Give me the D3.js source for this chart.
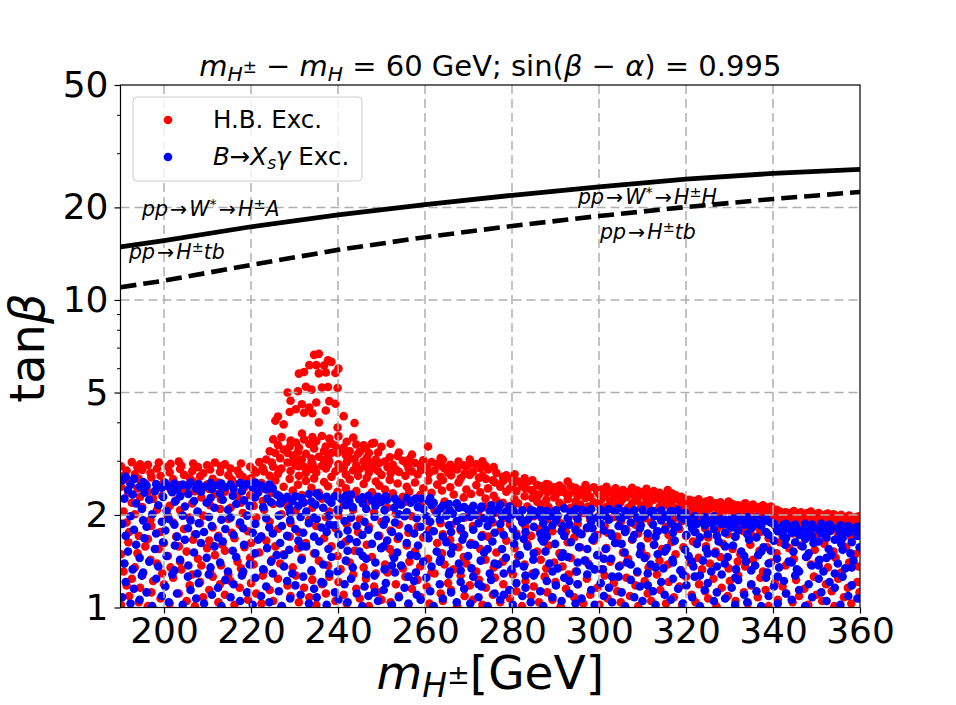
<!DOCTYPE html>
<html>
<head>
<meta charset="utf-8">
<script src="https://cdn.jsdelivr.net/npm/d3@7"></script>
<style>
  body { margin: 0; background: #fff; }
  text { font-family: "DejaVu Sans", sans-serif; }
</style>
</head>
<body>
<div id="chart"></div>
<script>
// axis ticks
const xTicks = [200, 220, 240, 260, 280, 300, 320, 340, 360];
const yTicks = [1, 2, 5, 10, 20, 50];
const yMinor = [3, 4, 6, 7, 8, 9, 30, 40];

// limit curves: m_H± (GeV) and tanβ
const massLine = [190, 200, 220, 240, 260, 280, 300, 320, 340, 360];
const wStarTan = [14.87, 15.6, 17.3, 18.9, 20.4, 21.9, 23.3, 24.7, 25.8, 26.6];
const tbTan    = [11.0, 11.55, 13.0, 14.55, 16.0, 17.4, 18.75, 20.05, 21.3, 22.45];

// scan points excluded by HiggsBounds: [m_H±, tanβ×100, ...]
const hbExcluded = [
 [190.1,102,149,247,288],[190.7,131,205,268],[191.4,118,189,279],[191.8,163,236],
 [192.0,109,176,258],[192.6,124,219,297],[193.3,135,201,271],[193.9,150,244,285],
 [194.2,104,171,262],[194.5,116,229,292],[195.0,127,212,280],[195.7,158,253],
 [196.3,101,167,238,291],[196.9,143,193,274],[197.1,112,184,265],[197.5,122,226],
 [198.4,139,208,283],[198.8,155,249,296],[199.2,107,176,268],[199.6,129,231],
 [200.0,119,162,256],[200.9,147,198,287],[201.3,103,214,275],[201.5,135,242,293],
 [202.1,125,189,261],[202.8,170,223],[203.4,111,158,250,298],[203.7,141,207,282],
 [204.0,133,236,289],[204.6,180,270],[205.2,105,152,245],[205.9,118,196,264],
 [206.5,128,218,278],[206.7,166,257,294],[207.1,101,173,239],[207.8,144,204,286],
 [208.3,121,188,267],[208.6,137,228],[209.0,108,199,273],[209.9,156,251,290],
 [210.4,114,165,243],[210.6,130,215,281],[211.2,126,182,262],[211.7,148,234,296],
 [212.5,104,171,255],[212.9,119,209,276],[213.1,137,225,288],[213.4,160,248],
 [214.0,110,153,238,292],[214.8,128,194,269],[215.3,122,211,283],[215.6,175,260],
 [216.2,102,168,252],[216.9,141,230,279],[217.4,116,186,271],[217.7,134,219,294],
 [218.1,129,203,266],[218.5,157,246],[219.3,106,177,258],[219.8,145,232,287],
 [220.0,120,162,263],[220.6,138,214,280],[221.2,111,196,275],[221.9,151,240,297],
 [222.4,103,170,254],[222.7,127,222,284],[223.0,132,208,277],[223.5,165,245,303],
 [224.3,114,190,268,322],[224.8,143,236,296],[225.1,105,217,287,352],[225.6,158,259,318,405],
 [226.2,124,180,272,338,418],[226.7,139,229,306,281],[227.0,101,201,283,358],[227.5,149,247,326,394],
 [228.4,118,214,296,318,500],[228.9,170,262,334,432],[229.1,109,188,278,349,470],[229.6,135,240,312,297],
 [230.3,127,207,290,344,441],[230.8,156,251,321,301,505],[231.0,104,176,268,331,288,576],[231.7,145,232,303,368,458],
 [232.2,116,220,287,352,430,583],[232.6,162,258,316,274,522],[233.4,108,193,281,340,447,614],[233.9,131,245,305,296,511],
 [234.1,123,211,294,358,428],[234.5,150,263,329,284,663],[235.0,102,184,275,347,464,614],[235.6,142,236,309,400,577,668],
 [236.3,119,226,289,361,519],[236.8,168,256,323,301,612],[237.2,111,197,283,334,437,581],[237.7,137,248,311,292,521,637],
 [238.0,126,205,299,354,469],[238.5,158,266,341,318,629],[239.4,105,181,277,336,460,579],[239.9,147,238,318,385,517],
 [240.1,121,199,292,360,598],[240.6,133,254,325,283],[241.3,110,216,285,331,419],[241.8,164,244,313,271],
 [242.0,103,187,297,346],[242.7,140,261,322,305],[243.5,128,208,279,357],[243.8,153,233,304,398],
 [244.2,115,239,290,339],[244.6,176,268,316],[245.0,107,194,282,321],[245.9,135,252,299,337],
 [246.4,124,218,287,329],[246.6,160,264,307],[247.1,101,183,275,318],[247.8,146,237,296,341],
 [248.3,117,204,284,343],[248.7,129,257,303],[249.2,112,225,278,319],[249.5,171,249,295],
 [250.0,106,190,270,333],[250.8,138,242,298],[251.4,130,211,286],[251.9,155,260,308],
 [252.1,104,178,273,341],[252.6,148,235,291],[253.3,119,202,281],[253.7,167,253,311],
 [254.0,109,186,276,319],[254.9,134,229,300],[255.5,126,221,268],[255.8,159,247,293],
 [256.2,102,175,284],[256.4,141,238,304],[257.0,115,198,277,314],[257.7,152,255,295],
 [258.3,123,183,271],[258.9,136,232,290],[259.1,108,214,280],[259.6,169,244,301],
 [260.4,117,192,286],[260.7,144,259,334],[261.0,103,179,274],[261.5,130,236,297],
 [262.2,129,207,279],[262.8,162,251,293],[263.6,111,188,266,306],[263.9,150,240,288],
 [264.1,105,173,260,302],[264.5,138,221,283],[265.3,120,203,275],[265.8,166,246,291],
 [266.0,114,185,269],[266.6,133,233,285],[267.4,101,216,281],[267.7,157,255,298],
 [268.2,127,178,263],[268.9,146,228,290],[269.1,109,196,272],[269.5,139,242,287],
 [270.3,118,209,270,303],[270.6,162,234,294],[271.0,106,184,276],[271.8,131,250,292],
 [272.4,123,199,264],[272.7,155,237,284],[273.2,102,172,268,299],[273.9,143,226,289],
 [274.0,116,212,262],[274.5,170,244,281],[275.6,110,189,259],[275.8,135,231,286],
 [276.1,125,203,255],[276.4,151,223,274],[277.3,104,178,247],[277.9,141,219,266],
 [278.0,119,195,258],[278.7,165,238,269],[279.5,107,186,243],[279.8,132,214,262],
 [280.2,128,201,252],[280.6,156,225,271],[281.0,113,174,239],[281.4,147,218,257],
 [282.3,101,192,248],[282.9,138,230,263],[283.1,122,183,244],[283.5,161,213,256],
 [284.4,109,171,241],[284.7,129,227,259],[285.0,117,198,236],[285.8,152,221,250],
 [286.2,104,180,233],[286.6,143,216,248],[287.5,126,167,242],[287.9,134,224,252],
 [288.1,112,194,237],[288.4,159,212,251],[289.3,106,177,240],[289.7,140,228,246],
 [290.0,121,202,231],[290.9,150,219,249],[291.2,101,188,238],[291.6,136,214,244],
 [292.4,115,176,235],[292.8,163,225,257],[293.0,128,196,232],[293.5,145,211,248],
 [294.3,108,169,239],[294.6,131,221,245],[295.1,119,187,230],[295.7,157,216,241],
 [296.4,103,203,236],[296.9,142,227,250],[297.2,124,181,234],[297.5,139,213,243],
 [298.0,110,193,229],[298.8,165,220,246],[299.6,116,172,238],[299.9,148,217,240],
 [300.1,102,199,233],[300.5,133,224,242],[301.3,127,184,230],[301.7,156,212,247],
 [302.0,107,175,237],[302.6,141,222,239],[303.4,120,197,228],[303.8,162,215,244],
 [304.2,113,170,231],[304.9,137,219,236],[305.0,104,190,235],[305.5,151,226,241],
 [306.3,125,179,229],[306.7,144,211,238],[307.1,109,201,233],[307.6,166,218,245],
 [308.4,118,186,227],[308.8,130,223,240],[309.0,101,174,232],[309.7,153,214,237],
 [310.5,122,195,230],[310.9,147,220,243],[311.2,111,168,226],[311.4,135,216,234],
 [312.0,105,189,231],[312.6,160,224,239],[313.3,128,177,228],[313.9,142,212,236],
 [314.1,114,198,225],[314.5,155,219,233],[315.4,103,183,230],[315.8,138,215,241],
 [316.0,121,172,227],[316.7,163,222,235],[317.2,108,194,224],[317.6,149,210,232],
 [318.5,117,180,223],[318.9,132,217,229],[319.1,102,191,221],[319.4,157,213,226],
 [320.0,126,171,218],[320.8,140,205,224],[321.3,110,186,216],[321.6,164,209,222],
 [322.2,104,176,214],[322.9,145,201,225],[323.0,119,195,213],[323.7,133,207,219],
 [324.4,113,181,217],[324.6,158,204,221],[325.1,107,169,212],[325.5,139,210,223],
 [326.3,124,190,215],[326.8,152,199,218],[327.0,101,178,211],[327.9,146,206,220],
 [328.2,116,184,214],[328.5,161,203,216],[329.6,109,173,210],[329.8,134,208,221],
 [330.1,122,193,212],[330.7,155,200,217],[331.4,105,170,209],[331.9,141,205,215],
 [332.0,127,187,213],[332.5,149,198,214],[333.3,112,177,208],[333.6,136,202,218],
 [334.2,103,189,211],[334.8,160,206,213],[335.0,118,172,207],[335.4,143,197,216],
 [336.5,108,183,210],[336.9,153,204,212],[337.1,125,176,206],[337.7,131,199,215],
 [338.3,114,192,209],[338.6,157,201,211],[339.0,101,168,205],[339.5,140,196,213],
 [340.4,120,185,203],[340.8,150,198,208],[341.1,106,179,201],[341.6,163,194,205],
 [342.2,117,171,199],[342.9,137,197,204],[343.0,111,188,202],[343.7,156,192,203],
 [344.5,104,174,198],[344.8,144,195,206],[345.3,123,182,200],[345.6,132,190,202],
 [346.0,109,176,197],[346.4,159,193,204],[347.2,115,186,201],[347.9,147,189,203],
 [348.1,102,170,196],[348.7,138,194,205],[349.4,126,180,199],[349.6,154,191,201],
 [350.0,110,173,198],[350.5,142,188,203],[351.3,105,184,196],[351.8,161,192,200],
 [352.2,119,168,197],[352.6,135,190,202],[353.5,113,178,195],[353.9,152,187,201],
 [354.1,101,183,194],[354.4,145,193,199],[355.0,124,171,198],[355.7,130,186,200],
 [356.3,108,176,193],[356.8,157,189,197],[357.2,116,185,195],[357.5,140,191,199],
 [358.0,103,169,192],[358.9,149,184,196],[359.4,121,179,194],[359.7,136,188,198],
 [359.9,112,174,190],[360.0,155,187,197]
];

// scan points excluded by B→X_sγ: [m_H±, tanβ×100, ...]
const bsgExcluded = [
 [190.4,108,187,259],[190.9,139,226],[191.2,121,171,266],[191.7,152,241],
 [192.3,103,198,251],[192.8,133,233],[193.1,115,179,262],[193.6,160,218],
 [194.4,106,145,247],[194.9,127,209],[195.2,130,192,256],[195.5,168,236],
 [196.0,112,183,249],[196.6,141,224],[197.3,101,201],[197.9,155,239],
 [198.2,124,174,252],[198.7,136,215],[199.5,109,190,245],[199.8,163,229],
 [200.3,117,178,254],[200.6,147,206],[201.1,104,194,248],[201.9,128,237],
 [202.4,132,186,253],[202.5,159,221],[203.0,111,170,242],[203.7,143,230],
 [204.3,102,199,251],[204.8,166,213],[205.5,126,181,249],[205.6,137,234],
 [206.1,114,192,255],[206.9,151,222],[207.4,107,173,244],[207.7,129,205],
 [208.0,120,188,252],[208.5,162,238],[209.2,103,176,247],[209.8,145,219],
 [210.3,128,197],[210.7,135,227,254],[211.0,110,184,243],[211.6,158,211],
 [212.4,116,169,250],[212.9,140,235],[213.2,101,193,253],[213.5,164,224],
 [214.1,123,180,246],[214.7,131,208],[215.3,108,196,251],[215.8,153,231],
 [216.0,119,172,243],[216.6,146,217],[217.5,105,189,254],[217.9,127,239],
 [218.2,131,181,248],[218.4,160,223],[219.1,112,199,252],[219.7,138,214],
 [220.4,102,175,245],[220.9,150,228],[221.0,125,187,255],[221.6,166,236],
 [222.3,109,170,249],[222.8,133,212],[223.5,117,195,242],[223.7,156,226],
 [224.2,104,182,251],[224.6,141,220],[225.0,129,174,244],[225.9,148,233],
 [226.4,113,199,231],[226.7,162,218],[227.1,101,184],[227.6,136,225,148],
 [228.3,122,171,229],[228.8,154,210],[229.0,107,192,203],[229.5,129,222],
 [230.2,118,180,230],[230.9,165,214],[231.4,110,197],[231.6,143,227,158],
 [232.0,126,175,219],[232.7,158,205],[233.3,103,188,234],[233.9,132,221],
 [234.5,115,170,196],[234.8,150,216],[235.1,108,194,235],[235.7,164,230],
 [236.2,121,182],[236.6,138,211,120],[237.4,102,176,229],[237.8,155,224],
 [238.0,129,199,186],[238.5,146,219],[239.3,112,185,230],[239.9,131,208],
 [240.1,106,173,207],[240.7,160,226],[241.5,119,191],[241.8,142,215,231],
 [242.2,104,178,153],[242.6,167,222],[243.0,124,196,233],[243.4,135,212],
 [244.3,111,184,163],[244.9,152,225],[245.6,101,172,228],[245.7,147,218],
 [246.1,117,190],[246.5,128,209,144],[247.0,109,179,231],[247.8,161,223],
 [248.4,127,197,112],[248.6,140,214],[249.2,105,171,229],[249.9,156,220],
 [250.5,114,186,158],[250.7,133,207],[251.0,120,193,230],[251.3,165,224],
 [252.4,102,176,137],[252.9,145,211],[253.1,130,189,226],[253.6,151,221],
 [254.0,108,170,201],[254.5,137,216],[255.3,116,198],[255.8,162,204,227],
 [256.2,103,181,126],[256.7,148,219],[257.5,122,174,224],[257.9,130,226],
 [258.1,110,195,147],[258.4,159,212],[259.0,106,183,226],[259.6,141,209],
 [260.3,125,172,198],[260.8,168,222],[261.2,113,190,227],[261.5,136,215],
 [262.0,101,177,219],[262.7,152,203],[263.4,119,193,141],[263.6,144,210],
 [264.1,107,170,214],[264.9,163,199],[265.5,128,185,217],[265.7,131,207],
 [266.0,112,176,150],[266.4,157,202],[267.3,104,191,218],[267.8,139,211],
 [268.2,121,181,132],[268.6,166,196],[269.0,115,172,212],[269.9,147,208],
 [270.4,103,197,160],[270.7,134,204],[271.1,126,179,214],[271.5,160,200],
 [272.3,108,188,119],[272.8,142,210],[273.0,117,170,213],[273.6,151,195],
 [274.4,101,184,155],[274.9,129,206],[275.2,123,193,215],[275.5,164,203],
 [276.0,111,175,139],[276.8,138,209],[277.3,106,187,216],[277.7,155,198],
 [278.1,129,172,110],[278.6,145,205],[279.4,114,194,213],[279.9,133,201],
 [280.2,102,180,208],[280.5,161,204],[281.0,120,171,139],[281.8,148,197],
 [282.4,109,189,207],[282.7,136,167],[283.1,116,176,127],[283.6,158,193],
 [284.3,104,199,208],[284.9,143,206],[285.0,127,183,150],[285.4,130,200],
 [286.5,113,174,207],[286.8,167,196],[287.2,101,188,164],[287.7,152,179],
 [288.0,122,170,206],[288.6,139,198],[289.3,108,185,131],[289.9,161,205],
 [290.1,118,192,207],[290.5,134,199],[291.4,105,177,146],[291.7,150,184],
 [292.0,125,171,210],[292.8,146,195],[293.2,111,186,122],[293.5,163,204],
 [294.6,103,179,209],[294.9,131,197],[295.1,119,194,140],[295.4,157,175],
 [296.0,107,173,208],[296.7,142,206],[297.3,128,182,155],[297.8,137,199],
 [298.2,114,190,209],[298.5,166,181],[299.0,102,170,133],[299.6,148,196],
 [300.4,120,187,208],[300.9,133,204],[301.1,109,178,144],[301.5,155,198],
 [302.3,116,193,209],[302.8,144,174],[303.0,104,171,126],[303.7,162,205],
 [304.5,126,184,210],[304.6,136,197],[305.2,112,195,161],[305.9,151,180],
 [306.0,101,176,206],[306.4,140,200],[307.3,123,189,138],[307.7,167,204],
 [308.1,108,172,207],[308.8,131,196],[309.4,117,181,149],[309.6,158,185],
 [310.0,105,197,208],[310.5,145,199],[311.2,129,174,118],[311.9,138,205],
 [312.4,113,186,206],[312.7,160,198],[313.0,102,170,135],[313.5,149,177],
 [314.3,121,192,207],[314.8,134,201],[315.1,110,179,152],[315.6,156,197],
 [316.5,106,188,206],[316.9,143,204],[317.0,124,175,140],[317.4,165,183],
 [318.2,115,183,207],[318.7,132,196],[319.3,103,194,128],[319.8,154,203],
 [320.1,118,172,197],[320.6,147,189],[321.4,108,181,141],[321.7,136,193],
 [322.0,126,176,198],[322.5,161,187],[323.2,101,169,127],[323.9,142,191],
 [324.3,114,185,197],[324.6,155,194],[325.0,120,173,150],[325.8,131,188],
 [326.4,105,180,198],[326.7,150,192],[327.1,112,171,136],[327.5,164,190],
 [328.2,128,187,194],[328.9,139,193],[329.0,107,175,158],[329.6,146,186],
 [330.5,116,182,195],[330.8,159,191],[331.3,102,170,125],[331.5,133,189],
 [332.0,123,178,196],[332.7,152,194],[333.4,110,186,147],[333.8,141,188],
 [334.1,104,173,197],[334.5,166,192],[335.0,119,181,132],[335.9,137,190],
 [336.2,113,169,196],[336.6,148,187],[337.3,101,184,152],[337.8,157,193],
 [338.4,125,176,195],[338.7,130,191],[339.0,109,172,139],[339.5,153,189],
 [340.2,117,165,187],[340.9,144,179],[341.1,103,177,126],[341.4,135,182],
 [342.5,122,170,186],[342.8,160,180],[343.0,111,168,187],[343.6,141,184],
 [344.3,106,175,140],[344.7,152,178],[345.1,127,163,186],[345.5,133,181],
 [346.0,114,172,131],[346.8,158,177],[347.4,101,167,187],[347.6,146,183],
 [348.2,119,176,150],[348.9,137,180],[349.0,108,170,186],[349.3,162,182],
 [350.5,124,164,137],[350.7,143,178],[351.1,112,174,187],[351.6,131,181],
 [352.3,105,169,145],[352.8,155,179],[353.0,121,177,186],[353.4,148,183],
 [354.2,116,166,129],[354.9,139,180],[355.5,102,173,185],[355.7,161,178],
 [356.0,126,168,154],[356.6,134,182],[357.3,109,175,184],[357.8,150,177],
 [358.1,118,163,135],[358.5,142,181],[359.4,107,171,183],[359.9,157,179]
];

const legendLabels = ["H.B. Exc.", "Exc."];

const width = 956, height = 705;
const plotL = 120.5, plotR = 860, plotT = 85, plotB = 607.5;

const svg = d3.select("#chart").append("svg")
    .attr("width", width)
    .attr("height", height);

svg.append("rect").attr("width", width).attr("height", height).attr("fill", "#fff");

const x = d3.scaleLinear().domain([190, 360]).range([plotL, plotR]);
const y = d3.scaleLog().domain([1, 50]).range([plotB, plotT]);

svg.append("clipPath").attr("id", "plot-clip")
  .append("rect")
    .attr("x", plotL).attr("y", plotT)
    .attr("width", plotR - plotL).attr("height", plotB - plotT);

const toPoints = rows => rows.flatMap(([m, ...t]) => t.map(v => [m, v / 100]));

const dots = svg.append("g").attr("clip-path", "url(#plot-clip)");

dots.append("g").selectAll("circle")
  .data(toPoints(hbExcluded))
  .enter().append("circle")
    .attr("cx", d => x(d[0]))
    .attr("cy", d => y(d[1]))
    .attr("r", 4.3)
    .attr("fill", "red");

dots.append("g").selectAll("circle")
  .data(toPoints(bsgExcluded))
  .enter().append("circle")
    .attr("cx", d => x(d[0]))
    .attr("cy", d => y(d[1]))
    .attr("r", 4.3)
    .attr("fill", "blue");

// dashed grid, drawn over the scatter like in the original
const grid = svg.append("g")
    .attr("stroke", "#b0b0b0")
    .attr("stroke-width", 1.5)
    .attr("stroke-dasharray", "9,5");

grid.selectAll("line.vx")
  .data(xTicks.filter(v => v < 360))
  .enter().append("line")
    .attr("x1", d => x(d)).attr("x2", d => x(d))
    .attr("y1", plotT).attr("y2", plotB);

grid.selectAll("line.hy")
  .data(yTicks.filter(v => v > 1 && v < 50))
  .enter().append("line")
    .attr("x1", plotL).attr("x2", plotR)
    .attr("y1", d => y(d)).attr("y2", d => y(d));

// curves
const line = d3.line()
    .x((d, i) => x(massLine[i]))
    .y(d => y(d));

const curves = svg.append("g").attr("clip-path", "url(#plot-clip)").attr("fill", "none").attr("stroke", "#000");
curves.append("path").attr("d", line(wStarTan)).attr("stroke-width", 4.8);
curves.append("path").attr("d", line(tbTan)).attr("stroke-width", 4.6).attr("stroke-dasharray", "16,7");

// frame
svg.append("rect")
    .attr("x", plotL).attr("y", plotT)
    .attr("width", plotR - plotL).attr("height", plotB - plotT)
    .attr("fill", "none").attr("stroke", "#000").attr("stroke-width", 1.2);

// axes
const xAxis = svg.append("g")
    .attr("transform", `translate(0,${plotB})`)
    .call(d3.axisBottom(x).tickValues(xTicks).tickSize(6).tickPadding(4));

const yAxis = svg.append("g")
    .attr("transform", `translate(${plotL},0)`)
    .call(d3.axisLeft(y).tickValues(yTicks).tickFormat(d3.format("d")).tickSize(6).tickPadding(6));

svg.append("g")
    .attr("transform", `translate(${plotL},0)`)
    .call(d3.axisLeft(y).tickValues(yMinor).tickFormat("").tickSize(3.5))
    .select(".domain").remove();

[xAxis, yAxis].forEach(a => {
  a.select(".domain").remove();
  a.selectAll(".tick line").attr("stroke", "#000").attr("stroke-width", 1.2);
  a.selectAll(".tick text")
    .attr("fill", "#000")
    .style("font-family", "DejaVu Sans")
    .style("font-size", "36px");
});

// mathtext-like label: parts = [text, italic?, level]; level 0 base, -1 sub, 1 sup, 2 sup on sub
function mathText(g, px, py, parts, size, anchor) {
  const t = g.append("text")
      .attr("x", px).attr("y", py)
      .attr("text-anchor", anchor || "start")
      .style("font-size", size + "px")
      .attr("fill", "#000");
  let cur = 0;
  parts.forEach(([txt, it, lvl]) => {
    const sc = lvl === 0 ? 1 : (lvl === 2 ? 0.58 : 0.7);
    const off = (lvl === 0 ? 0 : lvl === -1 ? 0.18 : lvl === 1 ? -0.36 : -0.1) * size;
    t.append("tspan")
        .attr("dy", off - cur)
        .style("font-size", size * sc + "px")
        .style("font-style", it ? "italic" : "normal")
        .text(txt);
    cur = off;
  });
  return t;
}

const sp = "\u00a0", hair = "\u200a";
const arrow = hair + "\u2192" + hair;

mathText(svg, (plotL + plotR) / 2, 76, [
  ["m", 1, 0], ["H", 1, -1], ["\u00b1", 0, 2],
  [sp + "\u2212" + sp, 0, 0], ["m", 1, 0], ["H", 1, -1],
  [sp + "=" + sp + "60" + sp + "GeV;" + sp + "sin(", 0, 0], ["\u03b2", 1, 0],
  [sp + "\u2212" + sp, 0, 0], ["\u03b1", 1, 0], [")" + sp + "=" + sp + "0.995", 0, 0]
], 29, "middle");

mathText(svg, (plotL + plotR) / 2, 689, [
  ["m", 1, 0], ["H", 1, -1], ["\u00b1", 0, 2], ["[GeV]", 0, 0]
], 47, "middle");

mathText(svg.append("g").attr("transform", "translate(44,348) rotate(-90)"), 0, 0, [
  ["tan", 0, 0], ["\u03b2", 1, 0]
], 48, "middle");

// curve annotations
const note = svg.append("g");
mathText(note, 142, 216, [["pp", 1, 0], [arrow, 0, 0], ["W", 1, 0], ["*", 0, 1], [arrow, 0, 0], ["H", 1, 0], ["\u00b1", 0, 1], ["A", 1, 0]], 20.5);
mathText(note, 129, 259, [["pp", 1, 0], [arrow, 0, 0], ["H", 1, 0], ["\u00b1", 0, 1], ["tb", 1, 0]], 20.5);
mathText(note, 578, 204, [["pp", 1, 0], [arrow, 0, 0], ["W", 1, 0], ["*", 0, 1], [arrow, 0, 0], ["H", 1, 0], ["\u00b1", 0, 1], ["H", 1, 0]], 20.5);
mathText(note, 600, 239, [["pp", 1, 0], [arrow, 0, 0], ["H", 1, 0], ["\u00b1", 0, 1], ["tb", 1, 0]], 20.5);

// legend
const legend = svg.append("g");
legend.append("rect")
    .attr("x", 133).attr("y", 97).attr("width", 229).attr("height", 84)
    .attr("rx", 4)
    .attr("fill", "#fff").attr("fill-opacity", 0.8)
    .attr("stroke", "#cccccc").attr("stroke-width", 1);
legend.append("circle").attr("cx", 168).attr("cy", 120).attr("r", 4.3).attr("fill", "red");
legend.append("circle").attr("cx", 168).attr("cy", 157).attr("r", 4.3).attr("fill", "blue");
mathText(legend, 213, 128, [[legendLabels[0], 0, 0]], 24.5);
mathText(legend, 213, 165, [["B", 1, 0], ["\u2192", 0, 0], ["X", 1, 0], ["s", 1, -1], ["\u03b3", 1, 0], [sp + legendLabels[1], 0, 0]], 24.5);
</script>
</body>
</html>
